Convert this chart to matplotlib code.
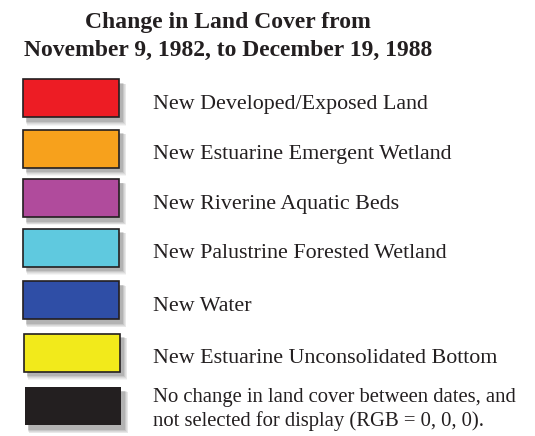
import matplotlib.pyplot as plt
from matplotlib.patches import Rectangle

# legend entries
labels = [
    'New Developed/Exposed Land',
    'New Estuarine Emergent Wetland',
    'New Riverine Aquatic Beds',
    'New Palustrine Forested Wetland',
    'New Water',
    'New Estuarine Unconsolidated Bottom',
    'No change in land cover between dates, and\nnot selected for display (RGB = 0, 0, 0).',
]
colors = ['#ED1C24', '#F7A11C', '#B04B9C', '#5FC9DF', '#2F4EA6', '#F2EA1B', '#231F20']
title = 'Change in Land Cover from\nNovember 9, 1982, to December 19, 1988'

fig = plt.figure(figsize=(5.35, 4.36), dpi=100)
ax = fig.add_axes([0, 0, 1, 1])
ax.set_xlim(0, 535)
ax.set_ylim(436, 0)
ax.axis('off')

serif = 'Liberation Serif'
ax.text(228, 56, title, ha='center', va='baseline', fontsize=17, fontweight='bold',
        family=serif, color='#231F20', linespacing=1.42)

box_top = [79.5, 129.5, 179, 228.5, 281, 333.5, 387]
box_x = [23, 23, 23, 23, 23, 24, 25]
w, h = 96, 38
for i, (lab, col) in enumerate(zip(labels, colors)):
    x0, y0 = box_x[i], box_top[i]
    # soft drop shadow
    for k, a in enumerate([0.04, 0.05, 0.06, 0.08, 0.1]):
        d = 6 - k
        ax.add_patch(Rectangle((x0 + 2 + d * 0.3, y0 + 3 + d * 0.3), w + d * 0.6, h + d * 0.6,
                               facecolor='black', edgecolor='none', alpha=a))
    ax.add_patch(Rectangle((x0, y0), w, h, facecolor=col,
                           edgecolor='#231F20' if i < 6 else 'none', linewidth=1.2))
    if '\n' in lab:
        ax.text(153, y0 + h / 2 + 19.5, lab, ha='left', va='baseline', fontsize=14.9,
                family=serif, color='#231F20', linespacing=1.22)
    else:
        ax.text(153, y0 + h / 2 + 10.5, lab, ha='left', va='baseline', fontsize=15.8,
                family=serif, color='#231F20')

fig.savefig('out.png', dpi=100, facecolor='white')
